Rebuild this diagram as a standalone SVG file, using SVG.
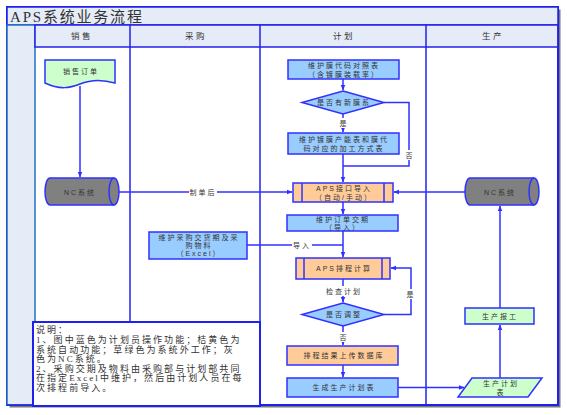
<svg xmlns="http://www.w3.org/2000/svg" width="567" height="415" viewBox="0 0 567 415">
<defs>
<marker id="arr" viewBox="0 0 10 10" refX="9" refY="5" markerWidth="6" markerHeight="6" orient="auto" markerUnits="userSpaceOnUse">
<path d="M0,1 L10,5 L0,9 Z" fill="#3030ff"/>
</marker>
<style>
.frame{fill:#e6ecf7;stroke:#2020ee;stroke-width:1.5}
.lane{stroke:#2020ee;stroke-width:1.5;fill:none}
.t{font-family:"Liberation Sans","Noto Sans CJK SC",sans-serif;font-size:7px;fill:#333;letter-spacing:2px;text-anchor:middle;dominant-baseline:central}
.hd{font-family:"Liberation Sans","Noto Sans CJK SC",sans-serif;font-size:8.5px;fill:#333;letter-spacing:2.5px;text-anchor:middle;dominant-baseline:central}
.note{font-family:"Liberation Serif","Noto Sans CJK SC",serif;font-size:9px;fill:#333;letter-spacing:2.05px}
.blue{fill:#99ccff;stroke:#3030ff;stroke-width:1.5}
.orange{fill:#ffcc99;stroke:#3030ff;stroke-width:1.5}
.green{fill:#ccffcc;stroke:#3030ff;stroke-width:1.5}
.gray{fill:#808080;stroke:#3030ff;stroke-width:1.5}
.c{fill:none;stroke:#3030ff;stroke-width:1.5}
.ca{fill:none;stroke:#3030ff;stroke-width:1.5;marker-end:url(#arr)}
.lbl{fill:#fff}
</style>
</defs>
<rect x="0" y="0" width="567" height="415" fill="#fff"/>
<g id="frame">
<rect x="9.5" y="9.5" width="551" height="398" fill="#777"/>
<rect x="7" y="7" width="551" height="398" fill="#fff" stroke="#2020ee" stroke-width="2"/>
<rect x="7" y="7" width="551" height="18" class="frame" stroke-width="2"/>
<text x="10" y="16.5" font-family="Liberation Serif,Noto Sans CJK SC,serif" font-size="15" fill="#333" letter-spacing="1.8" dominant-baseline="central">APS系统业务流程</text>
<rect x="7" y="25" width="28" height="380" fill="#e6ecf7" stroke="#1f6fc0" stroke-width="1.5"/>
<rect x="35" y="25" width="523" height="22" class="frame"/>
<line x1="130" y1="25" x2="130" y2="322" class="lane"/>
<line x1="260" y1="25" x2="260" y2="405" class="lane"/>
<line x1="426" y1="25" x2="426" y2="405" class="lane"/>
<line x1="558" y1="25" x2="558" y2="405" class="lane" stroke-width="2"/>
<line x1="7" y1="405" x2="558" y2="405" class="lane" stroke-width="2"/>
<text x="82" y="36" class="hd">销售</text>
<text x="196" y="36" class="hd">采购</text>
<text x="344" y="36" class="hd">计划</text>
<text x="493" y="36" class="hd">生产</text>
</g>
<g id="connectors">
<path d="M80,86 V177" class="ca"/>
<path d="M115,192 H292" class="ca"/>
<rect x="189" y="187" width="28" height="10" class="lbl"/>
<text x="203" y="192" class="t">制单后</text>
<path d="M343,79 V90" class="ca"/>
<path d="M343,114 V132" class="ca"/>
<rect x="338" y="118" width="10" height="10" class="lbl"/>
<text x="344" y="123" class="t">是</text>
<path d="M384,102.5 H409 V166 H343" class="c"/>
<rect x="404" y="150" width="12" height="10" class="lbl"/>
<text x="410" y="155" class="t">否</text>
<path d="M343,154 V182" class="ca"/>
<path d="M465,192 H394" class="ca"/>
<path d="M343,202 V214" class="ca"/>
<path d="M343,231 V257" class="ca"/>
<path d="M247,245 H343" class="c"/>
<rect x="292" y="240" width="20" height="10" class="lbl"/>
<text x="302" y="245" class="t">导入</text>
<path d="M343,279 V302" class="ca"/>
<rect x="324" y="286" width="38" height="10" class="lbl"/>
<text x="344" y="291" class="t">检查计划</text>
<path d="M384,314.5 H411 V268 H391" class="ca"/>
<rect x="405" y="289" width="12" height="10" class="lbl"/>
<text x="411" y="294" class="t">是</text>
<path d="M343,326 V345" class="ca"/>
<rect x="338" y="332" width="12" height="10" class="lbl"/>
<text x="344" y="337" class="t">否</text>
<path d="M343,365 V377" class="ca"/>
<path d="M398,387.5 H464" class="ca"/>
<path d="M500,378 V325" class="ca"/>
<path d="M500,308 V206" class="ca"/>
</g>
<g id="sales-order">
<path d="M45,60 H115 V83 C105,80 92,79 80,84 C70,88 60,90 45,83 Z" class="green"/>
<text x="81" y="71" class="t">销售订单</text>
</g>
<g id="nc-sales">
<path d="M50,178 H114 A5,13.5 0 0 1 114,205 H50 A5,13.5 0 0 1 50,178 Z" class="gray"/>
<path d="M114,178 A5,13.5 0 0 0 114,205" class="c"/>
<text x="80" y="192" class="t">NC系统</text>
</g>
<g id="purchase">
<rect x="149" y="232" width="98" height="27" class="blue"/>
<text x="199" y="237.5" class="t">维护采购交货期及采</text>
<text x="199" y="245.5" class="t">购物料</text>
<text x="199" y="253.5" class="t">（Excel）</text>
</g>
<g id="plan-code">
<rect x="288" y="60" width="111" height="19" class="blue"/>
<text x="344" y="65" class="t">维护膜代码对照表</text>
<text x="344" y="74" class="t">（含镀膜装载率）</text>
</g>
<g id="new-film">
<path d="M343,91 L384,102.5 L343,114 L302,102.5 Z" class="blue"/>
<text x="344" y="102.5" class="t">是否有新膜系</text>
</g>
<g id="plan-capacity">
<rect x="288" y="133" width="111" height="21" class="blue"/>
<text x="344" y="139" class="t">维护镀膜产能表和膜代</text>
<text x="344" y="148" class="t">码对应的加工方式表</text>
</g>
<g id="aps-import">
<rect x="293" y="183" width="100" height="19" class="orange"/>
<line x1="302" y1="183" x2="302" y2="202" class="c"/>
<line x1="384" y1="183" x2="384" y2="202" class="c"/>
<text x="344" y="188" class="t">APS接口导入</text>
<text x="344" y="197" class="t">（自动/手动）</text>
</g>
<g id="order-date">
<rect x="287" y="215" width="111" height="16" class="blue"/>
<text x="343" y="219.5" class="t">维护订单交期</text>
<text x="343" y="227" class="t">（导入）</text>
</g>
<g id="aps-schedule">
<rect x="296" y="258" width="94" height="21" class="orange"/>
<line x1="304" y1="258" x2="304" y2="279" class="c"/>
<line x1="382" y1="258" x2="382" y2="279" class="c"/>
<text x="344" y="268.5" class="t">APS排程计算</text>
</g>
<g id="adjust">
<path d="M343,303 L384,314.5 L343,326 L302,314.5 Z" class="blue"/>
<text x="344" y="314.5" class="t">是否调整</text>
</g>
<g id="upload">
<rect x="287" y="346" width="111" height="19" class="orange"/>
<text x="344" y="355.5" class="t">排程结果上传数据库</text>
</g>
<g id="gen-plan">
<rect x="287" y="378" width="111" height="19" class="blue"/>
<text x="344" y="387.5" class="t">生成生产计划表</text>
</g>
<g id="nc-prod">
<path d="M470,178 H534 A5,13.5 0 0 1 534,205 H470 A5,13.5 0 0 1 470,178 Z" class="gray"/>
<path d="M534,178 A5,13.5 0 0 0 534,205" class="c"/>
<text x="500" y="192" class="t">NC系统</text>
</g>
<g id="report">
<rect x="465" y="308" width="69" height="16" class="green"/>
<text x="500" y="316" class="t">生产报工</text>
</g>
<g id="prod-plan">
<path d="M472,378 H542 L528,397 H458 Z" class="green"/>
<text x="501" y="383" class="t">生产计划</text>
<text x="501" y="392" class="t">表</text>
</g>
<g id="note">
<rect x="33" y="322" width="227" height="84" fill="#fff" stroke="#2020ee" stroke-width="2"/>
<text x="36" y="333" class="note">说明：</text>
<text x="36" y="343" class="note">1、图中蓝色为计划员操作功能；桔黄色为</text>
<text x="36" y="352.5" class="note">系统自动功能；草绿色为系统外工作；灰</text>
<text x="36" y="362" class="note">色为NC系统。</text>
<text x="36" y="371.5" class="note">2、采购交期及物料由采购部与计划部共同</text>
<text x="36" y="381" class="note">在指定Excel中维护，然后由计划人员在每</text>
<text x="36" y="390.5" class="note">次排程前导入。</text>
</g>
</svg>
